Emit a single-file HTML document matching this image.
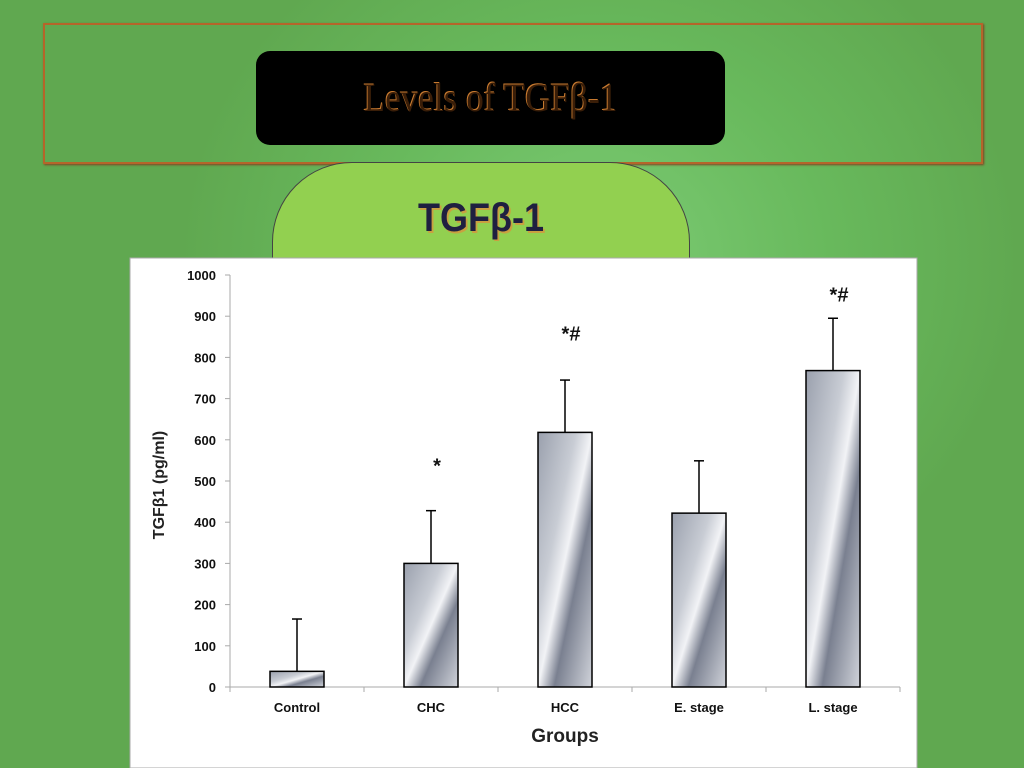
<!DOCTYPE html>
<html><head><meta charset="utf-8"><style>
body{margin:0;width:1024px;height:768px;overflow:hidden;font-family:"Liberation Sans",sans-serif;}
#bg{position:absolute;left:0;top:0;width:1024px;height:768px;background:radial-gradient(ellipse 420px 380px at 600px 260px,#7ccb74 0%,#68b95c 55%,#60a850 100%);}
</style></head><body>
<div id="bg"></div>
<div style="position:absolute;left:43px;top:23px;width:936px;height:137px;border:2px solid #b5652a;box-shadow:1px 1px 2px #804020;"></div>
<div style="position:absolute;left:256px;top:51px;width:469px;height:94px;background:#000;border-radius:14px;"></div>
<div style="position:absolute;left:256px;top:70px;width:469px;text-align:center;font-family:'Liberation Serif',serif;font-size:40px;color:#3a1e08;text-shadow:-1px -1px 0 #c77a30;line-height:56px;transform:scaleX(0.88);">Levels of TGFβ-1</div>
<div style="position:absolute;left:272px;top:162px;width:416px;height:120px;background:#92d050;border:1px solid #444;border-radius:80px 80px 0 0;"></div>
<div style="position:absolute;left:272px;top:196px;width:418px;text-align:center;font-size:40px;font-weight:bold;color:#1f2040;text-shadow:2px 2px 0 #c9a040;transform:scaleX(0.9);">TGFβ-1</div>
<svg id="chart" style="position:absolute;left:0;top:0" width="1024" height="768">
<defs><linearGradient id="g" x1="0" y1="0" x2="1" y2="1">
<stop offset="0" stop-color="#9aa0ad"/><stop offset="0.35" stop-color="#c8ccd4"/><stop offset="0.5" stop-color="#f2f3f6"/><stop offset="0.65" stop-color="#7a8090"/><stop offset="1" stop-color="#d0d3da"/></linearGradient></defs>
<rect x="130" y="258" width="787" height="510" fill="#fff" stroke="#aaa"/>
</svg>
<script>
const categories=["Control","CHC","HCC","E. stage","L. stage"];
const values=[38,300,618,422,768];
const errors=[127,128,127,127,127];
const marks=["","*","*#","","*#"];
const markLevels=[0,540,860,0,955];
const ticks=[0,100,200,300,400,500,600,700,800,900,1000];
const svg=document.getElementById('chart');const NS="http://www.w3.org/2000/svg";
const x0=230,x1=900,y0=687,y1=275;
const y=v=>y0-(v/1000)*(y0-y1);
const bw=(x1-x0)/categories.length;
const cx=i=>x0+bw*(i+0.5);
function el(t,a,txt){const e=document.createElementNS(NS,t);for(const k in a)e.setAttribute(k,a[k]);if(txt!=null)e.textContent=txt;svg.appendChild(e);return e;}
let a=el('line',{x1:x0,y1:y0,x2:x0,y2:y1,stroke:'#aaa'});
a=el('line',{x1:x0,y1:y0,x2:x1,y2:y0,stroke:'#aaa'});
ticks.forEach(t=>{let l=el('line',{x1:x0-5,y1:y(t),x2:x0,y2:y(t),stroke:'#aaa'});
let tx=el('text',{x:x0-14,y:y(t)+5,'text-anchor':'end','font-size':13,'font-weight':'bold',fill:'#111'},t);});
for(let i=0;i<=categories.length;i++){let l=el('line',{x1:x0+bw*i,y1:y0,x2:x0+bw*i,y2:y0+5,stroke:'#aaa'});}
categories.forEach((c,i)=>{
let e=el('line',{x1:cx(i),y1:y(values[i]),x2:cx(i),y2:y(values[i]+errors[i]),stroke:'#000','stroke-width':1.5});
let c2=el('line',{x1:cx(i)-5,y1:y(values[i]+errors[i]),x2:cx(i)+5,y2:y(values[i]+errors[i]),stroke:'#000','stroke-width':1.5});
let r=el('rect',{x:cx(i)-27,y:y(values[i]),width:54,height:y0-y(values[i]),fill:'url(#g)',stroke:'#000','stroke-width':1.5});
let t=el('text',{x:cx(i),y:y0+25,'text-anchor':'middle','font-size':13,'font-weight':'bold',fill:'#111'},c);
if(marks[i]){let m=el('text',{x:cx(i)+6,y:y(markLevels[i])+8,'text-anchor':'middle','font-size':20,'font-weight':'bold',fill:'#111'},marks[i]);}
});
let xt=el('text',{x:565,y:742,'text-anchor':'middle','font-size':19,'font-weight':'bold',fill:'#222'},'Groups');
let yt=el('text',{x:0,y:0,'text-anchor':'middle','font-size':16,'font-weight':'bold',fill:'#222',transform:'translate(164,485) rotate(-90)'},'TGFβ1 (pg/ml)');
</script>
</body></html>
